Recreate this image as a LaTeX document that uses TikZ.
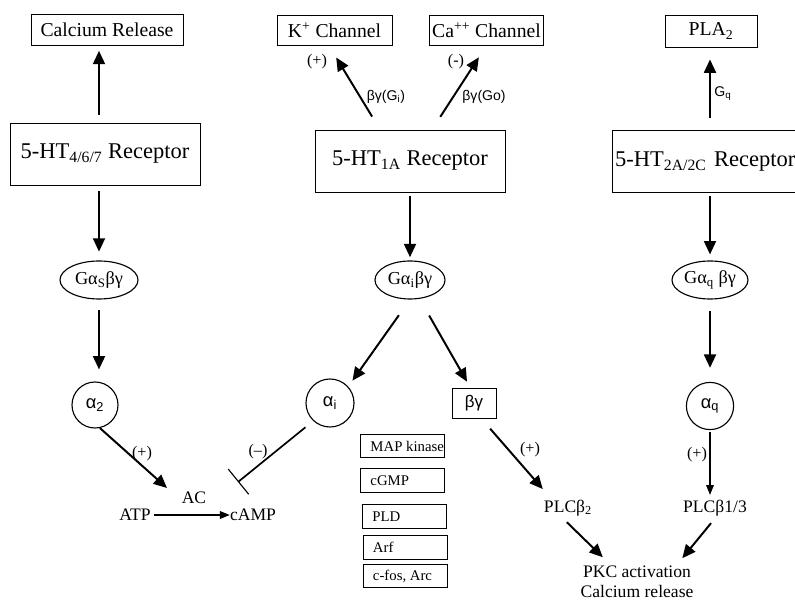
\documentclass[tikz,border=0pt]{standalone}
\usepackage{fontspec}
\setmainfont{Liberation Serif}
\newfontfamily\labelsans{Liberation Sans}
\usetikzlibrary{arrows.meta,shapes.geometric}
\newcommand{\stackitem}[1]{\makebox[1.6cm][l]{#1}}

\begin{document}
\begin{tikzpicture}
        [x=0.025cm, y=-0.025cm,
         box/.style={draw, line width=0.6pt, inner sep=0, font=\fontsize{14}{16}\selectfont},
         receptor/.style={draw, line width=0.6pt, inner sep=0, minimum width=4.75cm, minimum height=1.55cm, font=\fontsize{16}{18}\selectfont},
         gprot/.style={draw, ellipse, line width=0.8pt, inner sep=0, minimum height=0.95cm, font=\fontsize{13}{15}\selectfont},
         subunit/.style={draw, circle, line width=0.8pt, inner sep=0, minimum size=1.18cm, font=\labelsans\fontsize{13}{15}\selectfont},
         effector/.style={draw, line width=0.6pt, inner xsep=0.25cm, inner ysep=0, minimum height=0.58cm, font=\fontsize{10.5}{12}\selectfont},
         plain/.style={inner sep=0, font=\fontsize{12.5}{14.5}\selectfont},
         sign/.style={inner sep=0, font=\fontsize{11.5}{13}\selectfont},
         route/.style={inner sep=0, font=\labelsans\fontsize{10}{12}\selectfont},
         arr/.style={line width=1.4pt, -{Triangle[length=9.5pt,width=8.5pt]}},
         thinarr/.style={line width=0.8pt, -{Triangle[length=7pt,width=5.5pt]}},
         inhib/.style={line width=1.2pt, -{Bar[width=23pt,line width=0.8pt]}}]

        \useasboundingbox (0,0) rectangle (795,602);

        \node[box, minimum width=3.8cm, minimum height=0.78cm] (calrel) at (107,30) {Calcium Release};
        \node[box, minimum width=2.875cm, minimum height=0.73cm] (kch) at (334.5,30.5) {K\textsuperscript{+} Channel};
        \node[box, minimum width=2.83cm, minimum height=0.73cm] (cach) at (486.5,30.5) {Ca\textsuperscript{++} Channel};
        \node[box, minimum width=2.3cm, minimum height=0.8cm] (pla) at (711,31) {PLA\textsubscript{2}\hspace{0.45cm}};

        \node[receptor] (r467) at (105,154) {5-HT\textsubscript{4/6/7} Receptor};
        \node[receptor] (r1a) at (410,161) {5-HT\textsubscript{1A} Receptor};
        \node[receptor, anchor=west, minimum width=0pt, inner xsep=2pt, text width=4.8cm, align=left] (r2a) at (612,161.5) {5-HT\textsubscript{2A/2C} Receptor};

        \node[gprot, minimum width=1.95cm] (gs) at (99,280) {Gα\textsubscript{S}βγ};
        \node[gprot, minimum width=1.75cm] (gi) at (410,280) {Gα\textsubscript{i}βγ};
        \node[gprot, minimum width=1.9cm] (gq) at (710,280) {Gα\textsubscript{q} βγ};

        \node[subunit, minimum size=1.15cm] (a2) at (95,405) {α\textsubscript{2}};
        \node[subunit, minimum size=1.2cm] (ai) at (330,403) {α\textsubscript{i}};
        \node[subunit] (aq) at (710,406) {α\textsubscript{q}};
        \node[box, minimum width=1.1cm, minimum height=0.75cm, font=\labelsans\fontsize{12}{14}\selectfont] (bg) at (474,403) {βγ};

        \node[effector] (mapk) at (402.5,446) {\stackitem{MAP kinase}};
        \node[effector] (cgmp) at (402.5,480.5) {\stackitem{cGMP}};
        \node[effector] (pld) at (404.5,516.5) {\stackitem{PLD}};
        \node[effector] (arf) at (405,547.5) {\stackitem{Arf}};
        \node[effector] (cfos) at (405,576) {\stackitem{c-fos, Arc}};

        \node[plain] (atp) at (135,515) {ATP};
        \node[plain] (camp) at (253,515) {cAMP};
        \node[plain] (ac) at (194,498) {AC};
        \node[plain] (plcb2) at (568,508) {PLCβ\textsubscript{2}};
        \node[plain] (plcb13) at (715,508) {PLCβ1/3};
        \node[plain, align=center] (pkc) at (637,582) {PKC activation\\Calcium release};

        \node[sign] (splusa) at (142,454) {(+)};
        \node[sign] (sminusa) at (258,452) {(--)};
        \node[sign] (splusk) at (317,62) {(+)};
        \node[sign] (sminusca) at (456,62) {(-)};
        \node[sign] (splusb) at (530,450) {(+)};
        \node[sign] (splusq) at (697,455) {(+)};
        \node[route] (rgi) at (386,97) {βγ(G\textsubscript{i})};
        \node[route] (rgo) at (484,97) {βγ(Go)};
        \node[route] (rgq) at (723,94) {G\textsubscript{q}};

        \coordinate (acin) at (167,488);
        \coordinate (acblock) at (238,482);

        \draw[arr, shorten <=0.2cm, shorten >=0.12cm] (r467.north -| gs) -- (calrel.south -| gs);
        \draw[arr, shorten <=0.15cm, shorten >=0.22cm] (r467.south -| gs) -- (gs);
        \draw[arr, shorten <=0.27cm, shorten >=0.3cm] (gs) -- (gs |- a2.north);
        \draw[arr] (a2.282) -- (acin);
        \draw[inhib, shorten <=0.25cm] (ai.227) -- (acblock);
        \draw[thinarr, shorten <=2pt] (atp) -- (camp);
        \draw[arr, shorten <=0.38cm, shorten >=0.35cm] ([xshift=-0.75cm]r1a.north) -- ([xshift=-0.14cm]kch.south);
        \draw[arr, shorten <=0.38cm, shorten >=0.35cm] ([xshift=0.55cm]r1a.north) -- (cach.south);
        \draw[arr, shorten <=0.08cm, shorten >=0.08cm] (r1a.south -| gi) -- (gi);
        \draw[arr, shorten <=0.48cm, shorten >=0.18cm] (gi.south) -- (ai.42);
        \draw[arr, shorten <=0.46cm, shorten >=0.17cm] ([xshift=0.25cm]gi.south) -- ([xshift=-0.09cm]bg.north);
        \draw[arr, shorten <=0.34cm, shorten >=0.35cm] ([xshift=0.18cm]bg.south) -- ([xshift=-0.4cm]plcb2.north);
        \draw[arr, shorten <=0.21cm, shorten >=0.3cm] ([xshift=-0.18cm]plcb2.south) -- ([xshift=-0.64cm]pkc.north);
        \draw[arr, shorten <=0.22cm, shorten >=0.24cm] ([xshift=0.04cm]plcb13.south) -- ([xshift=0.98cm]pkc.north);
        \draw[arr, shorten <=0.3cm, shorten >=0.3cm] (r2a.north -| gq) -- (pla.south -| gq);
        \draw[arr, shorten <=0.08cm, shorten >=0.15cm] (r2a.south -| gq) -- (gq);
        \draw[arr, shorten <=0.28cm, shorten >=0.35cm] (gq) -- (gq |- aq.north);
        \draw[thinarr, shorten <=0.05cm, shorten >=0.12cm] (aq) -- (aq |- plcb13.north);
      \end{tikzpicture}
\end{document}
